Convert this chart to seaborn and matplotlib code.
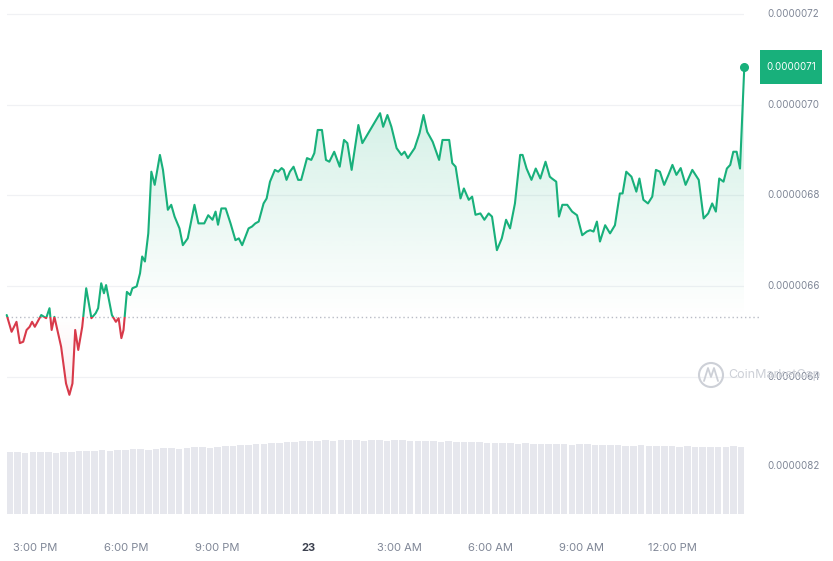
import numpy as np
import matplotlib.pyplot as plt
import seaborn as sns
from matplotlib.path import Path
from matplotlib.patches import Rectangle, Circle
from matplotlib.colors import to_rgb
from matplotlib.transforms import blended_transform_factory

# hours since 2:00 PM on the 22nd, price in units of 1e-8
hours = [0.15, 0.31, 0.47, 0.58, 0.69, 0.80, 0.90, 0.98, 1.07, 1.28, 1.44, 1.55, 1.62, 1.71,
         1.93, 2.09, 2.20, 2.30, 2.39, 2.49, 2.62, 2.75, 2.92, 3.06, 3.14, 3.24, 3.33, 3.40,
         3.59, 3.72, 3.81, 3.90, 3.97, 4.08, 4.19, 4.26, 4.40, 4.51, 4.58, 4.67, 4.78, 4.88,
         4.99, 5.16, 5.26, 5.42, 5.53, 5.64, 5.80, 5.91, 6.07, 6.29, 6.42, 6.61, 6.74, 6.88,
         6.98, 7.06, 7.17, 7.31, 7.47, 7.63, 7.74, 7.85, 8.06, 8.17, 8.28, 8.39, 8.55, 8.65,
         8.76, 8.92, 9.03, 9.14, 9.21, 9.30, 9.41, 9.53, 9.68, 9.78, 9.97, 10.11, 10.21, 10.32,
         10.46, 10.59, 10.70, 10.86, 11.04, 11.18, 11.29, 11.43, 11.65, 11.78, 12.36, 12.46,
         12.60, 12.73, 12.90, 13.06, 13.16, 13.27, 13.49, 13.65, 13.78, 13.90, 14.08, 14.29,
         14.40, 14.62, 14.72, 14.83, 14.99, 15.10, 15.26, 15.37, 15.48, 15.64, 15.77, 15.91,
         16.02, 16.18, 16.34, 16.48, 16.61, 16.77, 16.94, 17.02, 17.15, 17.31, 17.45, 17.60,
         17.77, 17.91, 17.98, 18.12, 18.21, 18.32, 18.48, 18.64, 18.80, 18.97, 19.12, 19.23,
         19.34, 19.45, 19.55, 19.72, 19.88, 20.04, 20.20, 20.29, 20.41, 20.58, 20.74, 20.84,
         20.97, 21.12, 21.26, 21.38, 21.51, 21.65, 21.79, 21.92, 22.05, 22.19, 22.35, 22.57,
         22.78, 22.94, 23.09, 23.22, 23.34, 23.45, 23.59, 23.70, 23.81, 23.91, 24.02, 24.13,
         24.27]
price_e8 = [653.6, 649.9, 652.1, 647.4, 647.7, 650.3, 651.0, 652.1, 651.0, 653.6, 652.9, 655.1,
            650.3, 653.2, 646.6, 638.5, 636.0, 638.5, 650.3, 645.9, 651.0, 659.5, 652.9, 654.0,
            655.1, 660.6, 658.4, 660.2, 653.6, 652.1, 652.9, 648.5, 650.3, 658.7, 658.0, 659.5,
            659.9, 662.8, 666.5, 665.4, 671.6, 685.2, 682.3, 688.9, 685.6, 676.8, 677.9, 675.3,
            672.7, 669.0, 670.5, 677.9, 673.8, 673.8, 675.6, 674.6, 676.4, 673.5, 677.1, 677.1,
            673.8, 670.1, 670.5, 669.0, 672.7, 673.1, 673.8, 674.2, 678.2, 679.3, 683.0, 685.6,
            685.2, 686.0, 685.6, 683.4, 685.2, 686.3, 683.4, 683.4, 688.2, 687.8, 689.3, 694.4,
            694.4, 687.8, 687.4, 689.6, 686.3, 692.2, 691.5, 685.6, 695.5, 691.5, 698.1, 695.1,
            697.7, 695.1, 690.4, 688.9, 689.6, 688.2, 690.4, 693.7, 697.7, 694.0, 691.8, 687.8,
            692.2, 692.2, 687.1, 686.3, 679.3, 681.5, 679.0, 679.7, 675.7, 676.0, 674.6, 676.0,
            675.3, 667.9, 670.5, 674.6, 672.7, 678.2, 688.9, 688.9, 685.9, 683.4, 685.9, 683.7,
            687.4, 684.1, 683.7, 683.0, 675.3, 677.9, 677.9, 676.4, 675.6, 671.2, 672.0, 672.3,
            672.0, 674.2, 669.8, 673.4, 671.6, 673.4, 680.4, 680.4, 685.2, 684.1, 680.8, 683.7,
            679.0, 678.2, 679.7, 685.6, 685.2, 682.3, 684.5, 686.7, 684.5, 686.0, 682.3, 685.6,
            683.4, 674.9, 676.0, 678.2, 676.4, 683.7, 683.0, 685.9, 686.7, 689.6, 689.6, 685.9,
            708.3]
open_price_e8 = 653.2

# volume bars (relative units)
volume = [62, 62, 61, 62, 62, 62, 61, 62, 62, 63, 63, 63, 64, 63, 64, 64, 65, 65, 64, 65,
          66, 66, 65, 66, 67, 67, 66, 67, 68, 68, 69, 69, 70, 70, 71, 71, 72, 72, 73, 73,
          73, 74, 73, 74, 74, 74, 73, 74, 74, 73, 74, 74, 73, 73, 73, 73, 72, 73, 72, 72,
          72, 72, 71, 71, 71, 71, 70, 71, 70, 70, 70, 70, 70, 69, 70, 70, 69, 69, 69, 69,
          68, 68, 69, 68, 68, 68, 68, 67, 68, 67, 67, 67, 67, 67, 68, 67]

tick_hours = [1, 4, 7, 10, 13, 16, 19, 22]
tick_labels = ["3:00 PM", "6:00 PM", "9:00 PM", "23", "3:00 AM", "6:00 AM", "9:00 AM", "12:00 PM"]
price_levels_e8 = [720, 700, 680, 660, 640]
price_level_labels = ["0.0000072", "0.0000070", "0.0000068", "0.0000066", "0.0000064"]
last_label = "0.0000071"

GREEN = "#18b07b"
RED = "#d83a4a"
GRAY = "#7f8696"

sns.set_style("white")
plt.rcParams["font.family"] = ["Inter", "DejaVu Sans"]

t = np.array(hours)
price = np.array(price_e8) * 1e-8
base = open_price_e8 * 1e-8

fig = plt.figure(figsize=(8.33, 5.61), dpi=100)
ax = fig.add_axes([6.7 / 833, 1 - 420 / 561, 737.6 / 833, 420 / 561])
ax_vol = fig.add_axes([6.7 / 833, 1 - 514 / 561, 737.6 / 833, 84 / 561])

# grid lines
for lv in price_levels_e8:
    ax.axhline(lv * 1e-8, color="#f0f1f4", lw=0.9, zorder=0)

# gradient fills (green above open price, red below)
def gradient_fill(mask, color, top, bottom, a_top, a_bottom):
    coll = ax.fill_between(t, price, base, where=mask, interpolate=True,
                           facecolor="none", edgecolor="none")
    clip = Path.make_compound_path(*coll.get_paths())
    grad = np.zeros((256, 1, 4))
    grad[..., :3] = to_rgb(color)
    grad[:, 0, 3] = np.linspace(a_top, a_bottom, 256)
    im = ax.imshow(grad, extent=[t[0], t[-1], bottom, top], aspect="auto",
                   origin="upper", zorder=1)
    im.set_clip_path(clip, ax.transData)

gradient_fill(price >= base, GREEN, price.max(), base, 0.22, 0.0)
gradient_fill(price <= base, RED, base, price.min(), 0.0, 0.10)

# price line, coloured by side of the open price
for color, rect in [(GREEN, Rectangle((-5, base), 40, 1e-5, transform=ax.transData)),
                    (RED, Rectangle((-5, base - 1e-5), 40, 1e-5, transform=ax.transData))]:
    sns.lineplot(x=t, y=price, ax=ax, color=color, lw=1.5, zorder=3)
    ax.lines[-1].set_clip_path(rect)

ax.axhline(base, xmax=1.022, color="#b9bcc6", lw=1, ls=(0, (1, 2)), zorder=2, clip_on=False)
ax.plot(t[-1], price[-1], "o", ms=5.5, color=GREEN, zorder=4, clip_on=False)

ax.set_xlim(t[0], t[-1])
ax.set_ylim(630.45e-8, 723.06e-8)
ax.set_xticks([])
ax.set_yticks([])
sns.despine(ax=ax, left=True, bottom=True)

# volume
vol_x = np.linspace(t[0], t[-1], len(volume))
ax_vol.bar(vol_x, volume, width=(vol_x[1] - vol_x[0]) * 0.85, color="#e6e7ed", lw=0)
ax_vol.set_xlim(t[0] - 0.1, t[-1] + 0.1)
ax_vol.set_ylim(0, 84)
ax_vol.set_yticks([])
ax_vol.set_xticks(tick_hours)
ax_vol.set_xticklabels(tick_labels)
ax_vol.tick_params(axis="x", length=0, pad=21, labelsize=8, colors=GRAY)
for lab in ax_vol.get_xticklabels():
    if lab.get_text() == "23":
        lab.set_fontweight("bold")
        lab.set_color("#3d4250")
sns.despine(ax=ax_vol, left=True, bottom=True)

# right-hand price labels
tr = blended_transform_factory(fig.transFigure, ax.transData)
for lv, lab in zip(price_levels_e8, price_level_labels):
    ax.text(767 / 833, lv * 1e-8, lab, transform=tr, fontsize=7, color=GRAY,
            va="center", ha="left", clip_on=False)
fig.text(767 / 833, 1 - 466 / 561, "0.0000082", fontsize=7, color=GRAY, va="center", ha="left")

# last price badge
fig.add_artist(Rectangle((760 / 833, 1 - 84 / 561), 62 / 833, 34 / 561,
                         transform=fig.transFigure, facecolor=GREEN, edgecolor="none"))
fig.text(791 / 833, 1 - 67 / 561, last_label, fontsize=7, color="white", ha="center", va="center")

# watermark
fig.add_artist(Circle((7.11, 1.86), 0.12, transform=fig.dpi_scale_trans, fill=False,
                      ec="#cdd0d7", lw=1.5))
fig.add_artist(plt.Line2D([7.04, 7.08, 7.11, 7.14, 7.18], [1.80, 1.93, 1.84, 1.93, 1.80],
                          transform=fig.dpi_scale_trans, color="#cdd0d7", lw=1.3))
fig.text(728 / 833, 1 - 375 / 561, "CoinMarketCap", fontsize=9, color="#cdd0d7",
         ha="left", va="center")

fig.savefig("out.png", dpi=100)
